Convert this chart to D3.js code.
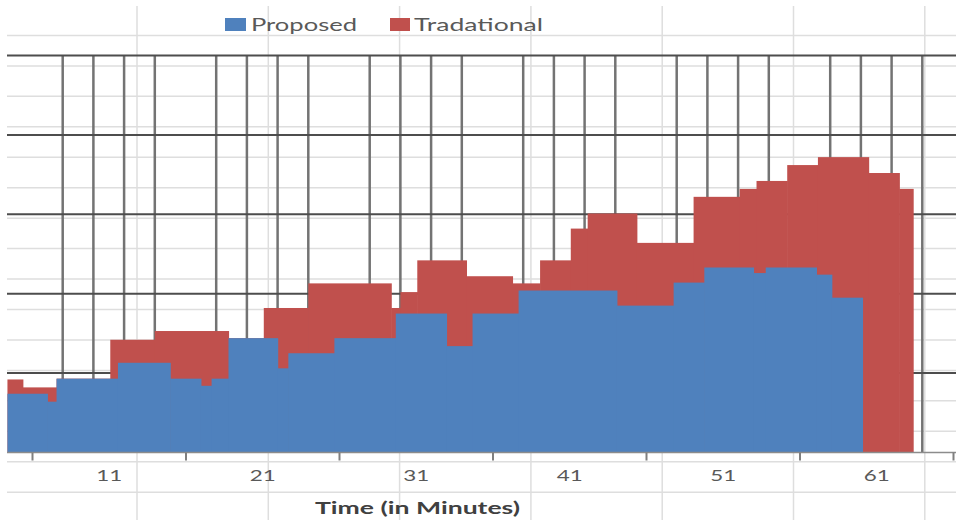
<!DOCTYPE html>
<html><head><meta charset="utf-8">
<script src="https://cdn.jsdelivr.net/npm/d3@7"></script>
<style>html,body{margin:0;padding:0;background:#fff;} svg{display:block;}</style>
</head><body>
<svg id="chart" width="956" height="520"></svg>
<script>
// ---- data (time in minutes, value in y-units) ----
const seriesNames = ["Proposed", "Tradational"];
const seriesColors = ["#4F81BD", "#C0504D"];
// step segments: segment i spans breaks[i] .. breaks[i+1] with values[i]
const proposedBreaks = [4.4, 7.0, 7.6, 11.6, 15.0, 17.0, 17.7, 18.8, 22.0, 22.7, 25.7, 29.7, 33.0, 34.7, 37.7, 44.1, 47.8, 49.8, 53.0, 53.8, 57.1, 58.1, 60.1];
const proposedValues = [7.4, 6.4, 9.3, 11.3, 9.3, 8.4, 9.3, 14.4, 10.6, 12.5, 14.4, 17.5, 13.4, 17.5, 20.4, 18.5, 21.4, 23.3, 22.6, 23.3, 22.4, 19.5];
const tradBreaks = [4.4, 5.4, 7.6, 11.1, 14.0, 18.8, 21.1, 24.0, 29.4, 30.0, 31.1, 34.3, 37.3, 39.1, 41.1, 42.2, 45.4, 49.1, 52.1, 53.2, 55.2, 57.2, 60.5, 62.5, 63.4];
const tradValues = [9.2, 8.2, 9.3, 14.2, 15.3, 14.4, 18.2, 21.3, 18.2, 20.2, 24.2, 22.2, 21.3, 24.2, 28.2, 30.1, 26.4, 32.2, 33.2, 34.2, 36.2, 37.2, 35.2, 33.2];
const xTickValues = [6, 16, 26, 36, 46, 56, 66];
const xLabelValues = [11, 21, 31, 41, 51, 61];
const yGridValues = [10, 20, 30, 40, 50];
const xTitle = "Time (in Minutes)";

const W = 956, H = 520;
const svg = d3.select("#chart");
const x = d3.scaleLinear().domain([6, 66]).range([32, 953]);
const y = d3.scaleLinear().domain([0, 50]).range([452.5, 55.5]);
const left = 7;

// spreadsheet cell grid behind the transparent chart
const sheet = svg.append("g").attr("stroke", "#dedede").attr("stroke-width", 1.5);
sheet.selectAll("line.h").data(d3.range(35.45, H, 30.45)).join("line")
  .attr("x1", left).attr("x2", W).attr("y1", d => d).attr("y2", d => d);
sheet.selectAll("line.v").data(d3.range(137, W, 131.3)).join("line")
  .attr("y1", 6).attr("y2", H).attr("x1", d => d).attr("x2", d => d);

// vertical chart gridlines (every 2 minutes, except on major ticks)
const vGrid = d3.range(8, 65, 2).filter(t => (t - 6) % 10 !== 0);
svg.append("g").selectAll("line").data(vGrid).join("line")
  .attr("x1", d => x(d)).attr("x2", d => x(d))
  .attr("y1", y(50)).attr("y2", y(0))
  .attr("stroke", "#737373").attr("stroke-width", 2.5);

// horizontal chart gridlines
svg.append("g").selectAll("line").data(yGridValues).join("line")
  .attr("x1", left).attr("x2", W)
  .attr("y1", d => y(d)).attr("y2", d => y(d))
  .attr("stroke", "#4d4d4d").attr("stroke-width", 2);

// bars
function segs(breaks, values) {
  return values.map((v, i) => ({x0: breaks[i], x1: breaks[i + 1], v}));
}
const series = [
  {name: seriesNames[1], color: seriesColors[1], data: segs(tradBreaks, tradValues)},
  {name: seriesNames[0], color: seriesColors[0], data: segs(proposedBreaks, proposedValues)}
];
series.forEach(s => {
  svg.append("g").selectAll("rect").data(s.data).join("rect")
    .attr("x", d => x(d.x0))
    .attr("width", d => x(d.x1) - x(d.x0) + 0.6)
    .attr("y", d => y(d.v))
    .attr("height", d => y(0) - y(d.v))
    .attr("fill", s.color);
});

// axis line
svg.append("line").attr("x1", left).attr("x2", W)
  .attr("y1", y(0)).attr("y2", y(0))
  .attr("stroke", "#8c8c8c").attr("stroke-width", 1.5);

// tick marks
const tickAxis = svg.append("g").attr("transform", `translate(0,${y(0)})`)
  .call(d3.axisBottom(x).tickValues(xTickValues).tickSize(8).tickFormat(""));
tickAxis.select(".domain").remove();
tickAxis.selectAll("line").attr("stroke", "#7f7f7f").attr("stroke-width", 2);

// tick labels
const labAxis = svg.append("g").attr("transform", `translate(0,${y(0)})`)
  .call(d3.axisBottom(x).tickValues(xLabelValues).tickSize(0).tickFormat(d3.format("d")));
labAxis.select(".domain").remove();
labAxis.selectAll("text")
  .attr("y", 28.5).attr("dy", 0)
  .attr("font-family", "Lato, 'Open Sans', sans-serif")
  .attr("font-size", 16)
  .attr("fill", "#595959")
  .attr("textLength", 26).attr("lengthAdjust", "spacingAndGlyphs");

// axis title
svg.append("text").attr("x", 417.5).attr("y", 514)
  .attr("text-anchor", "middle")
  .attr("font-family", "Lato, 'Open Sans', sans-serif")
  .attr("font-weight", "bold").attr("font-size", 17)
  .attr("fill", "#404040")
  .attr("textLength", 205).attr("lengthAdjust", "spacingAndGlyphs")
  .text(xTitle);

// legend
const legendItems = [
  {name: seriesNames[0], color: seriesColors[0], rx: 225, rw: 21, tx: 251, tw: 106},
  {name: seriesNames[1], color: seriesColors[1], rx: 390, rw: 20, tx: 414, tw: 129}
];
const lg = svg.append("g");
legendItems.forEach(it => {
  lg.append("rect").attr("x", it.rx).attr("y", 18).attr("width", it.rw).attr("height", 13).attr("fill", it.color);
  lg.append("text").attr("x", it.tx).attr("y", 31)
    .attr("font-family", "Lato, 'Open Sans', sans-serif").attr("font-size", 17)
    .attr("fill", "#595959")
    .attr("textLength", it.tw).attr("lengthAdjust", "spacingAndGlyphs")
    .text(it.name);
});
</script>
</body></html>
